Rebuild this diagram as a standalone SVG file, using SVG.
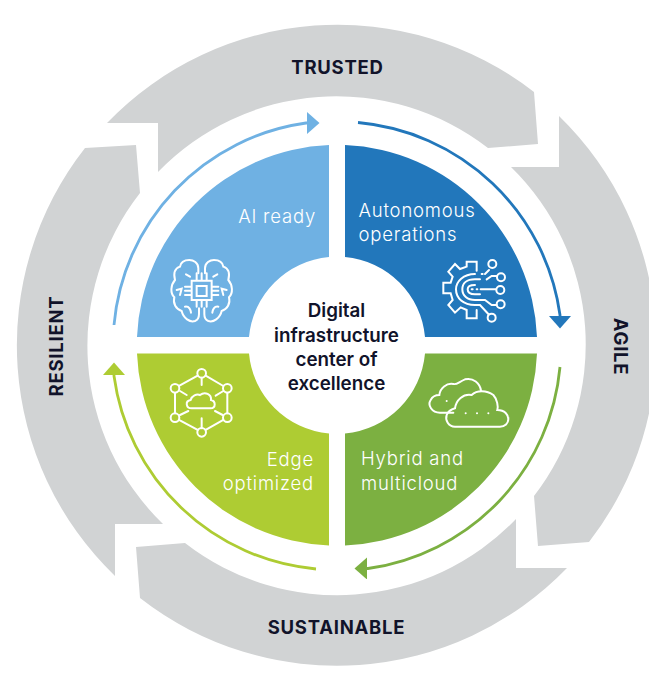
<svg xmlns="http://www.w3.org/2000/svg" xmlns:xlink="http://www.w3.org/1999/xlink" width="649" height="679" viewBox="0 0 649 679">
<style>
.seg{fill:#d1d3d4}
.tag{font:700 18.5px Inter,"Liberation Sans",sans-serif;fill:#11132a;text-anchor:middle;letter-spacing:.75px}
.lbl{font:300 18.5px Inter,"Liberation Sans",sans-serif;fill:#fff;letter-spacing:.8px}
.ctr{font:600 18.8px Inter,"Liberation Sans",sans-serif;fill:#11132a;text-anchor:middle}
.ic{fill:none;stroke:#fff;stroke-width:6;stroke-linecap:round;stroke-linejoin:miter}
.arc{fill:none;stroke-width:2.8}
</style>
<defs>
<marker id="mL" markerUnits="userSpaceOnUse" markerWidth="13" markerHeight="22" viewBox="0 0 13 22" refX="1" refY="11" orient="auto"><path d="M0 0L12.5 11L0 22Z" fill="#6fb1e3"/></marker>
<marker id="mB" markerUnits="userSpaceOnUse" markerWidth="13" markerHeight="22" viewBox="0 0 13 22" refX="1" refY="11" orient="auto"><path d="M0 0L12.5 11L0 22Z" fill="#2277bb"/></marker>
<marker id="mG" markerUnits="userSpaceOnUse" markerWidth="13" markerHeight="22" viewBox="0 0 13 22" refX="1" refY="11" orient="auto"><path d="M0 0L12.5 11L0 22Z" fill="#7cb041"/></marker>
<marker id="mO" markerUnits="userSpaceOnUse" markerWidth="13" markerHeight="22" viewBox="0 0 13 22" refX="1" refY="11" orient="auto"><path d="M0 0L12.5 11L0 22Z" fill="#aecc33"/></marker>
</defs>
<rect width="649" height="679" fill="#fff"/>
<g id="trusted">
<path class="seg" d="M107 123H158V172A248 248 0 0 1 488 148L538 144L534 92A320 320 0 0 0 107 123Z"/>
<text class="tag" x="337.500" y="73.500">TRUSTED</text>
</g>
<g id="agile">
<path class="seg" d="M559 116V167H511A248 248 0 0 1 534 496L538 546L589 542A320 320 0 0 0 559 116Z"/>
<text class="tag" transform="translate(614 346.500) rotate(90)">AGILE</text>
</g>
<g id="sustainable">
<path class="seg" d="M516 519V568H567A320 320 0 0 1 140 598L136 547L185 543A248 248 0 0 0 516 519Z"/>
<text class="tag" x="336.500" y="633.500">SUSTAINABLE</text>
</g>
<g id="resilient">
<path class="seg" d="M115 576V524H163A248 248 0 0 1 140 193L136 145L85 148A320 320 0 0 0 115 576Z"/>
<text class="tag" transform="translate(63 346) rotate(-90)">RESILIENT</text>
</g>
<g id="connectors">
<path class="arc" stroke="#6fb1e3" marker-end="url(#mL)" d="M114 325A224 224 0 0 1 306 123H308"/>
<path class="arc" stroke="#2277bb" marker-end="url(#mB)" d="M358 122.500A224 224 0 0 1 560 315V317"/>
<path class="arc" stroke="#7cb041" marker-end="url(#mG)" d="M560 367A224 224 0 0 1 368 568.500H366"/>
<path class="arc" stroke="#aecc33" marker-end="url(#mO)" d="M316 569A224 224 0 0 1 114 376V374"/>
</g>
<g id="ai-ready">
<path fill="#6fb1e3" d="M329 145A200.160 200.160 0 0 0 137 337H249A88.360 88.360 0 0 1 329 257Z"/>
<text class="lbl" x="316" y="223" text-anchor="end">AI ready</text>
<g transform="translate(130 240) scale(.3333)">
<g id="brainhalf" class="ic">
<path d="M205 100V85C205 68 190 60 178 60C162 60 152 68 150 80C135 85 130 100 135 120C122 135 120 160 133 172C128 190 138 208 155 213C160 235 180 248 195 243C203 240 207 232 207 222V205"/>
<path d="M168 103L180 110M140 150L155 146L150 165M165 200C178 198 182 210 183 218"/>
</g>
<use xlink:href="#brainhalf" href="#brainhalf" transform="matrix(-1 0 0 1 430 0)"/>
<path class="ic" d="M185 122H245V180H185ZM200 138H230V168H200ZM165 140H185M165 152H185M165 165H185M245 140H265M245 152H265M245 165H265M200 100V122M215 100V122M230 100V122M200 180V200M215 180V200M230 180V200"/>
</g>
</g>
<g id="autonomous-operations">
<path fill="#2277bb" d="M345 145A200.160 200.160 0 0 1 537 337H425A88.360 88.360 0 0 0 345 257Z"/>
<text class="lbl" x="358.500" y="217">Autonomous</text>
<text class="lbl" x="358.500" y="241">operations</text>
<g transform="translate(430 250) scale(.3333)" class="ic">
<path d="M140 62V35H110V50L90 57L75 42L55 65L68 80L62 98H40V130H62L68 150L55 165L75 188L92 172L110 180V205H140V180"/>
<path d="M135 72C100 72 78 95 78 118C78 145 100 165 135 165H150L175 192M155 72H158M165 72L177 60"/>
<path d="M170 88L185 78H200M150 88H135C110 88 97 100 97 118C97 137 112 150 135 150H165L185 165H200"/>
<path d="M135 105C120 105 113 110 113 118C113 128 120 133 135 133H150M125 118H128M140 118H142M152 118H198"/>
<circle cx="187" cy="42" r="12"/><circle cx="213" cy="82" r="12"/><circle cx="211" cy="120" r="12"/><circle cx="212" cy="163" r="12"/><circle cx="185" cy="203" r="12"/>
</g>
</g>
<g id="hybrid-and-multicloud">
<path fill="#7cb041" d="M345 545.500A200.160 200.160 0 0 0 537 353.500H425A88.360 88.360 0 0 1 345 433.500Z"/>
<text class="lbl" x="361" y="465">Hybrid and</text>
<text class="lbl" x="361" y="490">multicloud</text>
<g transform="translate(420 370) scale(.3333)" class="ic">
<path d="M100 128H60C35 128 22 105 32 90C38 78 50 75 58 75C60 55 80 38 100 42C110 45 118 35 135 28C160 22 180 40 183 62"/>
<path d="M105 170C85 170 75 150 80 135C85 122 95 118 105 115C108 90 130 70 155 75C170 60 200 60 220 75C232 88 235 110 232 120C255 120 265 135 265 147C265 160 255 170 240 170Z"/>
<path d="M137 130h.1M171 130h.1M205 130h.1M80 93h.1"/>
</g>
</g>
<g id="edge-optimized">
<path fill="#aecc33" d="M329 545.500A200.160 200.160 0 0 1 137 353.500H249A88.360 88.360 0 0 0 329 433.500Z"/>
<text class="lbl" x="314" y="466" text-anchor="end">Edge</text>
<text class="lbl" x="314" y="490" text-anchor="end">optimized</text>
<g transform="translate(150 355) scale(.3333)" class="ic">
<circle cx="155" cy="55" r="13"/><circle cx="232" cy="100" r="13"/><circle cx="232" cy="188" r="13"/><circle cx="155" cy="232" r="13"/><circle cx="75" cy="188" r="13"/><circle cx="75" cy="100" r="13"/>
<path d="M167 62L220 93M232 113V175M220 195L167 225M143 225L87 195M75 175V113M87 93L143 62"/>
<path d="M155 68V90M155 220V190M90 108L110 120M220 108L197 122M90 180L115 168M218 180L195 168"/>
<path d="M125 160C108 160 104 138 122 135C125 122 140 116 150 120C165 108 185 118 183 135C198 138 198 160 182 160Z"/>
</g>
</g>
<g id="center">
<text class="ctr" x="336.500" y="317">Digital</text>
<text class="ctr" x="336.500" y="342">infrastructure</text>
<text class="ctr" x="336.500" y="366">center of</text>
<text class="ctr" x="336.500" y="390">excellence</text>
</g>
</svg>
